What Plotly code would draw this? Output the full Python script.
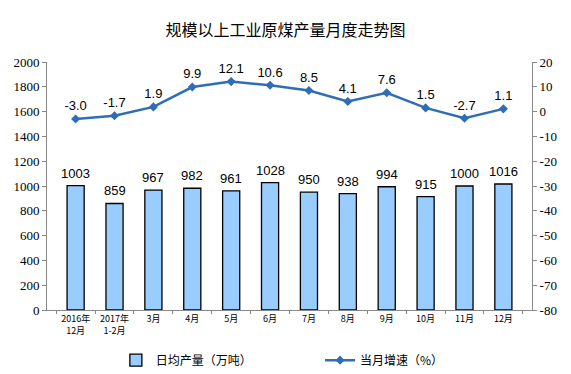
import plotly.graph_objects as go

categories = ["2016年<br>12月", "2017年<br>1-2月", "3月", "4月", "5月", "6月", "7月", "8月", "9月", "10月", "11月", "12月"]
daily_output = [1003, 859, 967, 982, 961, 1028, 950, 938, 994, 915, 1000, 1016]
growth = [-3.0, -1.7, 1.9, 9.9, 12.1, 10.6, 8.5, 4.1, 7.6, 1.5, -2.7, 1.1]
left_ticks = list(range(0, 2001, 200))
right_ticks = list(range(-80, 21, 10))

fig = go.Figure()
fig.add_trace(go.Bar(
    x=categories, y=daily_output, name="日均产量（万吨）",
    marker=dict(color="#99CCFF", line=dict(color="black", width=1.3)),
    legend="legend",
))
fig.add_trace(go.Scatter(
    x=categories, y=growth, name="当月增速（%）", yaxis="y2",
    mode="lines+markers+text",
    line=dict(color="#2F6EB5", width=2.5),
    marker=dict(symbol="diamond", size=7, color="#2F6EB5"),
    text=[f"{v:.1f}" for v in growth], textposition="top center",
    textfont=dict(family="Liberation Sans, Arial", size=13, color="black"),
    cliponaxis=False, legend="legend2",
))

for c, v in zip(categories, daily_output):
    fig.add_annotation(x=c, y=v, xref="x", yref="y", text=str(v), showarrow=False,
                       yanchor="bottom", yshift=3,
                       font=dict(family="Liberation Sans, Arial", size=13, color="black"))

legend_font = dict(family="Noto Sans CJK SC", size=12, color="black")
fig.update_layout(
    width=571, height=374,
    margin=dict(l=47, r=39, t=62, b=64),
    paper_bgcolor="white", plot_bgcolor="white",
    title=dict(text="规模以上工业原煤产量月度走势图", x=0.5, xanchor="center", y=0.92, yanchor="middle",
               font=dict(family="Noto Sans CJK SC", size=16, color="black")),
    bargap=0.56,
    showlegend=True,
    legend=dict(x=0.142, xanchor="left", y=0.037, yanchor="middle", xref="paper", yref="container",
                font=legend_font, bgcolor="rgba(0,0,0,0)"),
    legend2=dict(x=0.563, xanchor="left", y=0.037, yanchor="middle", xref="paper", yref="container",
                 font=legend_font, bgcolor="rgba(0,0,0,0)"),
    xaxis=dict(showline=True, linecolor="#888", linewidth=1, ticks="outside", ticklen=3, tickcolor="#888",
               tickson="boundaries", tickangle=0,
               tickfont=dict(family="Noto Sans CJK SC", size=9, color="black"),
               showgrid=False, automargin=False),
    yaxis=dict(range=[0, 2000], tickvals=left_ticks, showline=True, linecolor="#888", linewidth=1,
               ticks="outside", ticklen=4, tickcolor="#888", showgrid=False, zeroline=False,
               automargin=False,
               tickfont=dict(family="Liberation Serif", size=13, color="black")),
    yaxis2=dict(range=[-80, 20], tickvals=right_ticks, ticktext=[str(v) for v in right_ticks],
                overlaying="y", side="right", showline=True,
                linecolor="#888", linewidth=1, ticks="outside", ticklen=4, tickcolor="#888",
                showgrid=False, zeroline=False, automargin=False,
                tickfont=dict(family="Liberation Serif", size=13, color="black")),
)

fig.write_html("out.html", config={"displayModeBar": False},
               post_script="document.body.style.margin='0';")
